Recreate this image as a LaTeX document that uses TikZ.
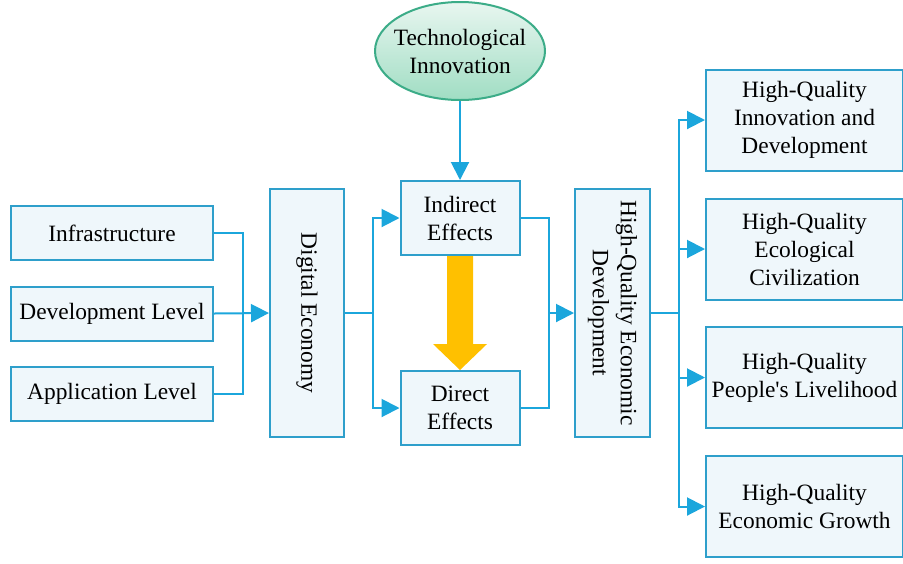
\documentclass[tikz,border=0pt]{standalone}
\usepackage{fontspec}
\setmainfont{Liberation Serif}
\usetikzlibrary{calc,arrows.meta,shapes.geometric}

\definecolor{boxline}{HTML}{2E9FCB}
\definecolor{boxfill}{HTML}{EFF7FB}
\definecolor{wire}{HTML}{1BA6DC}
\definecolor{ovaltop}{HTML}{E8F6F0}
\definecolor{ovalbot}{HTML}{A0DDC3}
\definecolor{ovalline}{HTML}{3CAC88}
\definecolor{bigarrow}{HTML}{FFC000}

\begin{document}
\begin{tikzpicture}[
  x=0.5pt, y=-0.5pt,
  every node/.style={font=\fontsize{11.7}{14}\selectfont, align=center, inner sep=1pt},
  box/.style={rectangle, draw=boxline, fill=boxfill, line width=1pt},
  oval/.style={ellipse, draw=ovalline, line width=1pt, top color=ovaltop, bottom color=ovalbot,
    inner xsep=-4pt, inner ysep=0pt, minimum width=85pt, minimum height=49pt},
  wire/.style={draw=wire, line width=1pt},
  feed/.style={wire, -{Triangle[length=9pt,width=9pt]}}
]
\useasboundingbox (0,0) rectangle (903,563);

% inputs
\node[box, minimum width=101pt, minimum height=27pt] (infra) at (112,233) {Infrastructure};
\node[box, minimum width=101pt, minimum height=27pt] (devlvl) at (112,313.5) {Development Level};
\node[box, minimum width=101pt, minimum height=27pt] (applvl) at (112,393.5) {Application Level};

% digital economy
\node[box, minimum width=37pt, minimum height=124pt] (digeco) at (307,313) {};
\node[rotate=-90] at (digeco) {Digital Economy};

% effects
\node[oval] (techinn) at (460,51) {Technological\\Innovation};
\node[box, minimum width=59.5pt, minimum height=37pt] (indir) at (460,218) {Indirect\\Effects};
\node[box, minimum width=59.5pt, minimum height=37pt] (direct) at (460,408) {Direct\\Effects};

% high-quality development
\node[box, minimum width=37.5pt, minimum height=124pt] (hqdev) at (612.5,313) {};
\node[rotate=-90] at (hqdev) {High-Quality Economic\\Development};

\node[box, minimum width=98.5pt, minimum height=50.5pt] (hq1) at (804.5,120) {High-Quality\\Innovation and\\Development};
\node[box, minimum width=98.5pt, minimum height=50.5pt] (hq2) at (804.5,249) {High-Quality\\Ecological\\Civilization};
\node[box, minimum width=98.5pt, minimum height=50.5pt] (hq3) at (804.5,377.5) {High-Quality\\People\textquotesingle s Livelihood};
\node[box, minimum width=98.5pt, minimum height=50.5pt] (hq4) at (804.5,506.5) {High-Quality\\Economic Growth};

% junctions
\coordinate (jleft) at (243,313);
\coordinate (jmid) at (373,313);
\coordinate (jright) at (549,313);
\coordinate (jout) at (679,313);

\draw[wire] (infra.east) -| (jleft);
\draw[wire] (applvl.east) -| (jleft);
\draw[feed] (devlvl.east) -- (digeco.west);

\draw[wire] (digeco.east) -- (jmid);
\draw[feed] (jmid) |- (indir.west);
\draw[feed] (jmid) |- (direct.west);
\draw[feed] (techinn.south) -- (indir.north);

\draw[wire] (indir.east) -| (jright);
\draw[wire] (direct.east) -| (jright);
\draw[feed] (jright) -- (hqdev.west);

\draw[wire] (hqdev.east) -- (jout);
\foreach \n in {hq1,hq2,hq3,hq4}
  \draw[feed] (jout) |- (\n.west);

% indirect -> direct
\fill[bigarrow] ($(indir.south)+(-13,0)$) -- ($(indir.south)+(13,0)$)
  -- ($(direct.north)+(13,-26)$) -- ($(direct.north)+(27,-26)$)
  -- (direct.north) -- ($(direct.north)+(-27,-26)$)
  -- ($(direct.north)+(-13,-26)$) -- cycle;
\end{tikzpicture}
\end{document}
